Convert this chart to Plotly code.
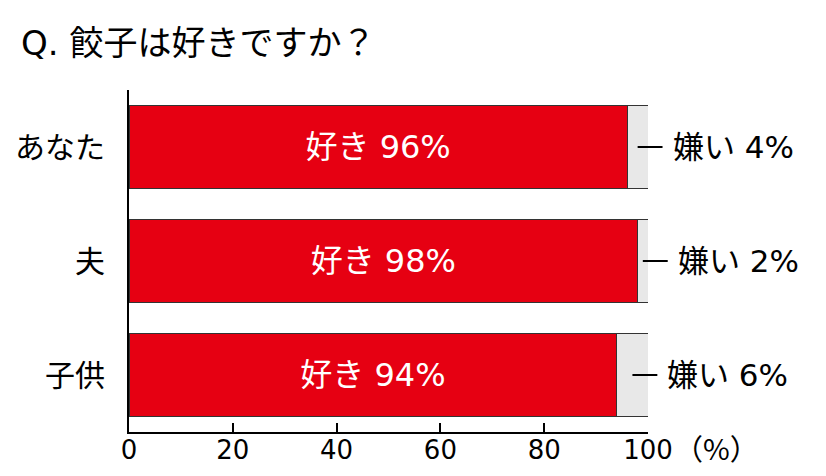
import plotly.graph_objects as go

categories = ["あなた", "夫", "子供"]
like_vals = [96, 98, 94]
dislike_vals = [4, 2, 6]
tick_vals = [0, 20, 40, 60, 80, 100]
title_text = "Q. 餃子は好きですか？"

FONT = "DejaVu Sans, Noto Sans CJK JP"
RED = "#E60012"
GREY = "#E8E8E8"

fig = go.Figure()
fig.add_trace(go.Bar(
    y=categories, x=like_vals, orientation="h",
    marker=dict(color=RED, line=dict(color="#333333", width=1)),
    text=[f"好き {v}%" for v in like_vals], textposition="inside",
    insidetextanchor="middle",
    textfont=dict(color="white", size=32, family=FONT),
    hoverinfo="skip",
))
fig.add_trace(go.Bar(
    y=categories, x=dislike_vals, orientation="h",
    marker=dict(color=GREY, line=dict(color="#333333", width=1)),
    hoverinfo="skip",
))

for cat, lv, dv in zip(categories, like_vals, dislike_vals):
    x0 = (lv + dv / 2) / 100
    x1 = x0 + 0.048
    fig.add_shape(type="line", xref="paper", yref="y", x0=x0, x1=x1, y0=cat, y1=cat,
                  line=dict(color="black", width=2))
    fig.add_annotation(xref="paper", yref="y", x=x1, y=cat, text=f"嫌い {dv}%",
                       showarrow=False, xanchor="left", xshift=8,
                       font=dict(size=31, color="black", family=FONT))

fig.add_annotation(xref="paper", yref="paper", x=1, y=0, text="（%）",
                   showarrow=False, xanchor="left", yanchor="middle", xshift=24, yshift=-15,
                   font=dict(size=29, color="black", family="Noto Sans CJK JP"))

# page body has an 8px default margin: figure is 8px smaller so the plot lands where the reference has it
fig.update_layout(
    barmode="stack", bargap=0.28, showlegend=False,
    width=818, height=468,
    margin=dict(l=121, r=178, t=82, b=44, autoexpand=False),
    plot_bgcolor="white", paper_bgcolor="white",
    title=dict(text=title_text, x=0.016, xanchor="left", y=0.925, yanchor="middle",
               font=dict(size=34, color="black", family=FONT)),
    font=dict(family=FONT, color="black"),
)
fig.update_xaxes(range=[0, 100], tickvals=tick_vals, ticktext=[str(v) for v in tick_vals],
                 showgrid=False, zeroline=False, showline=True, linecolor="black", linewidth=2,
                 ticks="inside", ticklen=9, tickwidth=2, tickcolor="black", automargin=False,
                 ticklabelstandoff=-6,
                 tickfont=dict(size=26, family=FONT, color="black"))
fig.update_yaxes(autorange="reversed", showgrid=False, zeroline=False, showline=True,
                 linecolor="black", linewidth=2, ticks="", ticklabelstandoff=16, automargin=False,
                 tickfont=dict(size=30, family=FONT, color="black"))

fig.write_html("out.html")
